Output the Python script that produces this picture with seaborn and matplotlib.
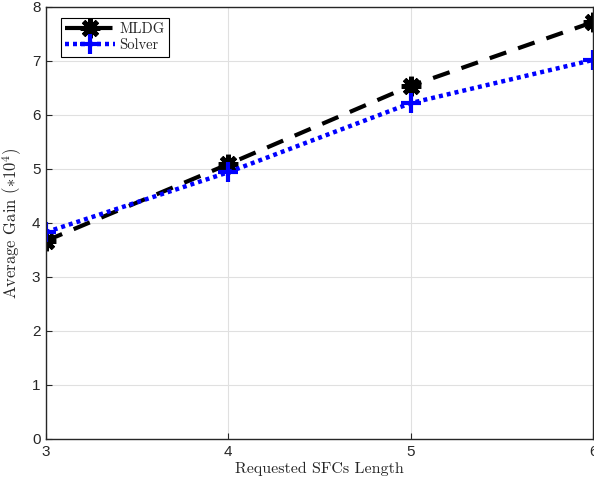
import matplotlib
matplotlib.use("Agg")
import matplotlib.pyplot as plt
import seaborn as sns
import pandas as pd

lengths = [3, 4, 5, 6]
mldg = [3.67, 5.09, 6.54, 7.72]
solver = [3.83, 4.94, 6.22, 7.02]

sns.set_style("whitegrid")
plt.rcParams['mathtext.fontset'] = 'cm'

df = pd.DataFrame({"x": lengths * 2, "y": mldg + solver,
                   "series": ["MLDG"] * 4 + ["Solver"] * 4})

fig = plt.figure(figsize=(5.94, 4.82), dpi=100)
ax = fig.add_axes([46/594, 43/482, 547/594, 432/482])

sns.lineplot(data=df[df.series == "MLDG"], x="x", y="y", ax=ax, color="black",
             linewidth=3, marker=(8, 2, 0), markersize=14,
             markeredgewidth=3.5, markeredgecolor="black", label="MLDG")
ax.lines[-1].set_linestyle((0, (4.2, 3.0)))
sns.lineplot(data=df[df.series == "Solver"], x="x", y="y", ax=ax, color="blue",
             linewidth=3.2, marker="+", markersize=14, markeredgewidth=3,
             markeredgecolor="blue", label="Solver")
ax.lines[-1].set_linestyle((0, (0.9, 0.9)))

ax.set_xlim(3, 6)
ax.set_ylim(0, 8)
ax.set_xticks(lengths)
ax.set_yticks(range(0, 9))
ax.grid(True, color="#e0e0e0", linewidth=0.8)
for s in ax.spines.values():
    s.set_visible(True)
    s.set_color("#262626")
    s.set_linewidth(1.0)
ax.tick_params(axis="both", direction="in", length=4, width=0.8, colors="#262626",
               labelsize=11, pad=4, left=True, bottom=True)
for lab in ax.get_xticklabels() + ax.get_yticklabels():
    lab.set_fontfamily("Liberation Sans")

ax.set_xlabel("Requested SFCs Length", fontfamily="cmr10", fontsize=11.5, labelpad=2)
ax.set_ylabel(r"Average Gain $(*10^4)$", fontfamily="cmr10", fontsize=12)
ax.yaxis.set_label_coords(-0.040, 0.5)

leg = ax.legend(loc="upper left", bbox_to_anchor=(0.027, 0.974), borderaxespad=0,
                frameon=True, fancybox=False,
                edgecolor="black", framealpha=1, prop={"family": "cmr10", "size": 10.5},
                handlelength=3.4, borderpad=0.3, labelspacing=0.15, handletextpad=0.3)
leg.get_frame().set_linewidth(0.8)

fig.savefig("out.png", dpi=100)
